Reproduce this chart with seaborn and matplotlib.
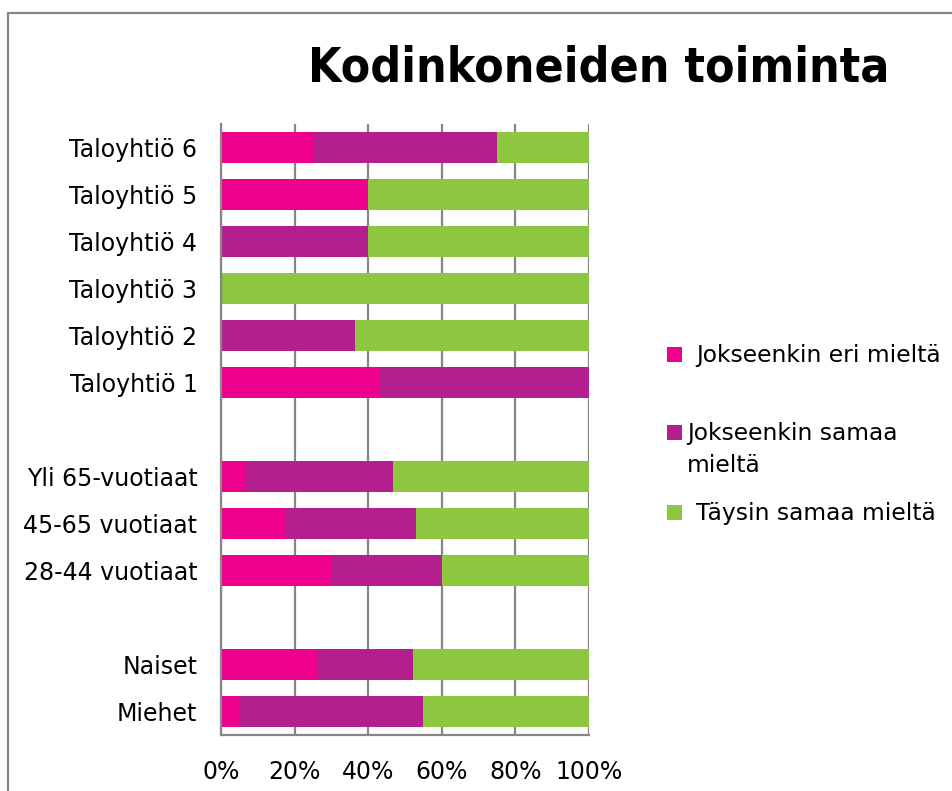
import numpy as np
import pandas as pd
import matplotlib
matplotlib.use("Agg")
import matplotlib.pyplot as plt
import seaborn as sns
from matplotlib.lines import Line2D
from matplotlib.patches import Rectangle

# Rows top -> bottom; empty strings are the gaps between groups
categories = ["Taloyhtiö 6", "Taloyhtiö 5", "Taloyhtiö 4", "Taloyhtiö 3",
              "Taloyhtiö 2", "Taloyhtiö 1", "", "Yli 65-vuotiaat",
              "45-65 vuotiaat", "28-44 vuotiaat", "", "Naiset", "Miehet"]
eri_mielta = [25.0, 40.0, 0.0, 0.0, 0.0, 42.9, 0.0, 6.7, 17.6, 30.0, 0.0, 26.1, 5.0]
samaa_mielta = [50.0, 0.0, 40.0, 0.0, 36.4, 57.1, 0.0, 40.0, 35.3, 30.0, 0.0, 26.1, 50.0]
taysin_samaa = [25.0, 60.0, 60.0, 100.0, 63.6, 0.0, 0.0, 53.3, 47.1, 40.0, 0.0, 47.8, 45.0]

series_names = ["Jokseenkin eri mieltä", "Jokseenkin samaa\nmieltä", "Täysin samaa mieltä"]
colors = ["#EC008C", "#B41E8E", "#8DC63F"]
xticks = [0, 20, 40, 60, 80, 100]

sns.set_theme(style="white")
plt.rcParams["font.family"] = ["DejaVu Sans"]
plt.rcParams["text.color"] = "black"

# unique keys so seaborn keeps the blank rows separate
keys = [f"r{i}" for i in range(len(categories))]
df = pd.DataFrame({"row": keys, "s1": eri_mielta, "s2": samaa_mielta, "s3": taysin_samaa})
df["c1"] = df["s1"]
df["c2"] = df["s1"] + df["s2"]
df["c3"] = df["c2"] + df["s3"]

W, H = 953, 791
fig = plt.figure(figsize=(W / 100, H / 100), dpi=100)
ax = fig.add_axes([221 / W, 56 / H, 368 / W, 611 / H])

# draw cumulative totals back to front so the stacks show through
for col, color in zip(["c3", "c2", "c1"], colors[::-1]):
    sns.barplot(data=df, x=col, y="row", order=keys, color=color, orient="h",
                width=0.64, saturation=1, linewidth=0, ax=ax)

ax.set_xlim(0, 100)
ax.set_ylim(len(keys) - 0.5, -0.5)
ax.set_xticks(xticks)
ax.set_xticklabels([f"{t}%" for t in xticks], fontsize=17, color="black")
ax.set_yticks(range(len(keys)))
ax.set_yticklabels(categories, fontsize=17, color="black")
ax.tick_params(axis="both", length=0)
ax.tick_params(axis="x", pad=18)
ax.tick_params(axis="y", pad=17)
ax.set_xlabel("")
ax.set_ylabel("")
ax.set_axisbelow(True)
ax.grid(axis="x", color="#868686", linewidth=1.6)
ax.grid(axis="y", visible=False)
for side in ["top", "right"]:
    ax.spines[side].set_visible(False)
for side in ["left", "bottom"]:
    ax.spines[side].set_color("#868686")
    ax.spines[side].set_linewidth(1.6)

fig.text(599 / W, 1 - 68 / H, "Kodinkoneiden toiminta", ha="center", va="center",
         fontsize=34.5, fontweight="bold", fontstretch="condensed", color="black")

# legend laid out by hand: square beside the first line of each label
leg_sq_top = [347, 425, 505]
leg_text_x = [696, 687, 696]
for name, color, top, tx in zip(series_names, colors, leg_sq_top, leg_text_x):
    fig.add_artist(Rectangle((667 / W, 1 - (top + 15) / H), 15 / W, 15 / H,
                             facecolor=color, edgecolor="none", transform=fig.transFigure))
    fig.text(tx / W, 1 - (top - 3) / H, name, ha="left", va="top", fontsize=16.8,
             color="black", linespacing=1.5)

# outer chart frame
fig.add_artist(Line2D([8 / W, 1.0], [1 - 13 / H, 1 - 13 / H], color="#868686", linewidth=1.6))
fig.add_artist(Line2D([8 / W, 8 / W], [0.0, 1 - 13 / H], color="#868686", linewidth=1.6))

fig.savefig("out.png", dpi=100)
